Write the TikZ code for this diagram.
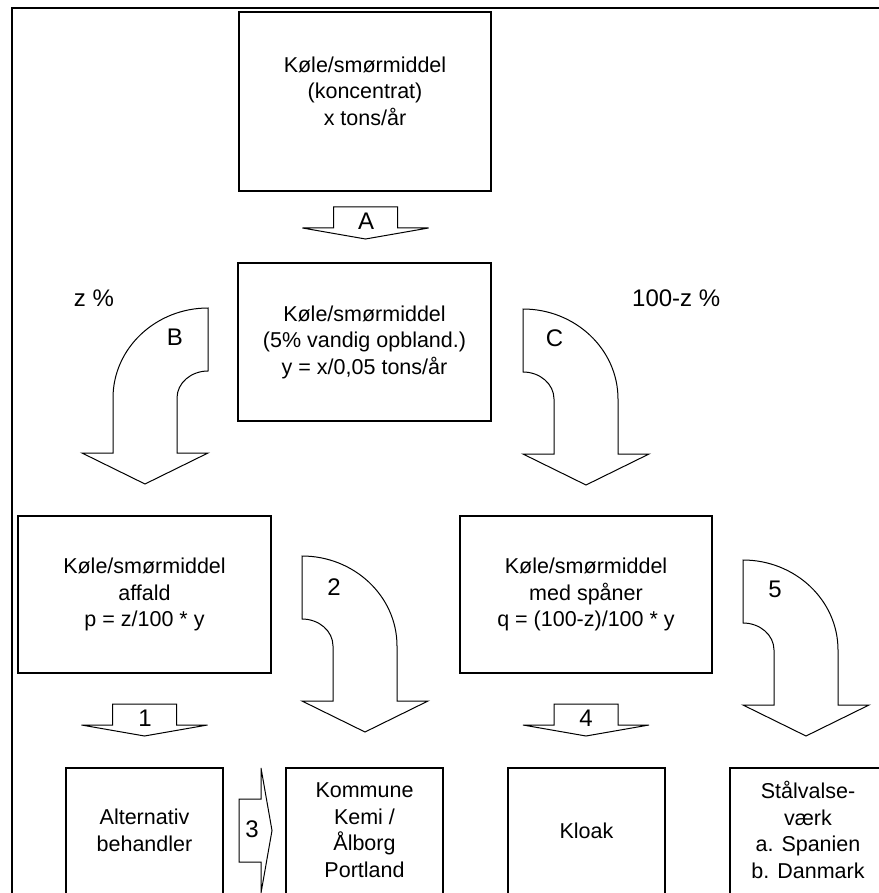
\documentclass[tikz,border=0pt]{standalone}
\usepackage{fontspec}
\setmainfont{Liberation Sans}
\newcommand\dgboxfont{\fontsize{21.5}{26.5}\selectfont}
\newcommand\dglblfont{\fontsize{24}{28}\selectfont}
\begin{document}
\begin{tikzpicture}[x=1pt,y=-1pt,
  frame/.style={line width=2.6pt, line cap=rect},
  box/.style={draw, line width=1.2pt, inner sep=0pt, align=center, font=\dgboxfont},
  txt/.style={inner sep=0pt, align=center, font=\dgboxfont},
  lbl/.style={inner sep=0pt, font=\dglblfont},
  arr/.style={draw, line width=1pt, fill=white, line join=miter},
  downarrow/.pic={\path[arr] (-32,0) -- (-32,21) -- (-63,21) -- (0,32) -- (63,21) -- (32,21) -- (32,0) -- cycle;},
  rightarrow/.pic={\path[arr] (0,-31.5) -- (22,-31.5) -- (22,-62.5) -- (33,0) -- (22,62.5) -- (22,31.5) -- (0,31.5) -- cycle;},
  bendarrow/.pic={\path[arr] (0,0) -- (0,63) .. controls (17,63) and (31,75) .. (31,90) -- (31,145) -- (0,145) -- (63,176) -- (126,145) -- (95,145) -- (95,90) .. controls (95,40) and (52,0) .. (0,0) -- cycle;}
]
\useasboundingbox (0,0) rectangle (878,893);
% outer frame (top and left edges)
\draw[frame] (12,905) -- (12,8) -- (895,8);

% upper boxes
\node[box, minimum width=252pt, minimum height=179pt] (conc) at (365,101.5) {};
\node[txt] (conct) at (365,91)
  {Køle/smørmiddel\\(koncentrat)\\x tons/år};
\node[box, minimum width=253pt, minimum height=158pt] (mix) at (364.5,342)
  {Køle/smørmiddel\\(5\% vandig opbland.)\\y = x/0,05 tons/år};
\node[box, minimum width=253pt, minimum height=157pt] (waste) at (144.5,594.5)
  {Køle/smørmiddel\\affald\\p = z/100 * y};
\node[box, minimum width=252pt, minimum height=157pt] (chips) at (586,594.5)
  {Køle/smørmiddel\\med spåner\\q = (100-z)/100 * y};

% bottom boxes (cut by the lower edge)
\node[box, minimum width=157pt, minimum height=132pt] (alt) at (144.5,834) {};
\node[box, minimum width=157pt, minimum height=132pt] (komm) at (364.5,834) {};
\node[box, minimum width=157pt, minimum height=132pt] (kloak) at (586.5,834) {};
\node[box, minimum width=157pt, minimum height=132pt] (steel) at (808.5,834) {};
\node[txt] (altt) at (144.5,830.5) {Alternativ\\behandler};
\node[txt] (kommt) at (364.5,830) {Kommune\\Kemi /\\Ålborg\\Portland};
\node[txt] (kloakt) at (586.5,830.5) {Kloak};
\node[txt] (steelt) at (808,830) {Stålvalse-\\værk\\a. Spanien\\b. Danmark};

% block arrows
\pic at (365.5,207) {downarrow};
\pic at (144.5,704) {downarrow};
\pic at (586,704) {downarrow};
\pic at (239,830.5) {rightarrow};
\pic[xscale=-1] at (208,308) {bendarrow};
\pic at (523,309) {bendarrow};
\pic at (302,556) {bendarrow};
\pic at (743,560) {bendarrow};

% arrow labels
\node[lbl] (la) at (366,221.5) {A};
\node[lbl] (lb) at (175,337) {B};
\node[lbl] (lc) at (554.5,338.5) {C};
\node[lbl] (l1) at (145,718.5) {1};
\node[lbl] (l2) at (334,587) {2};
\node[lbl] (l3) at (252,829.5) {3};
\node[lbl] (l4) at (586,718.5) {4};
\node[lbl] (l5) at (775,589.5) {5};

% shares
\node[lbl] (pz) at (94,298) {z \%};
\node[lbl, anchor=west] (pnz) at (632,298) {100-z \%};
\end{tikzpicture}
\end{document}
